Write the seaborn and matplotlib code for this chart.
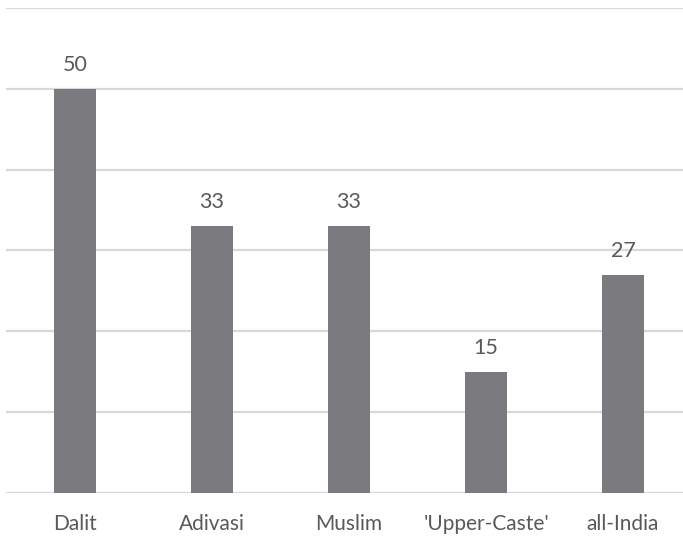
import matplotlib
matplotlib.use("Agg")
import matplotlib.pyplot as plt
import seaborn as sns
import pandas as pd

groups = ["Dalit", "Adivasi", "Muslim", "'Upper-Caste'", "all-India"]
values = [50, 33, 33, 15, 27]

sns.set_theme(style="white")
plt.rcParams["font.family"] = ["Lato", "DejaVu Sans"]

df = pd.DataFrame({"group": groups, "value": values})

fig = plt.figure(figsize=(6.83, 5.36), dpi=100)
ax = fig.add_axes([0.0095, 0.0802, 1.003, 0.905])

sns.barplot(data=df, x="group", y="value", color="#7b7b7f", width=0.31,
            saturation=1, linewidth=0, ax=ax, zorder=3)

ax.set_ylim(0, 60)
ax.set_yticks(range(0, 61, 10))
ax.yaxis.grid(True, color="#d9d9d9", linewidth=1.6, zorder=0)
ax.set_yticklabels([])
ax.tick_params(axis="y", length=0)
ax.tick_params(axis="x", length=0, labelsize=15, labelcolor="#595959", pad=15)
ax.set_xlabel("")
ax.set_ylabel("")
for s in ax.spines.values():
    s.set_visible(False)

for i, v in enumerate(values):
    ax.annotate(str(v), (i, v), xytext=(0, 10), textcoords="offset points",
                ha="center", va="bottom", fontsize=15.5, color="#595959")

fig.savefig("out.png", dpi=100)
